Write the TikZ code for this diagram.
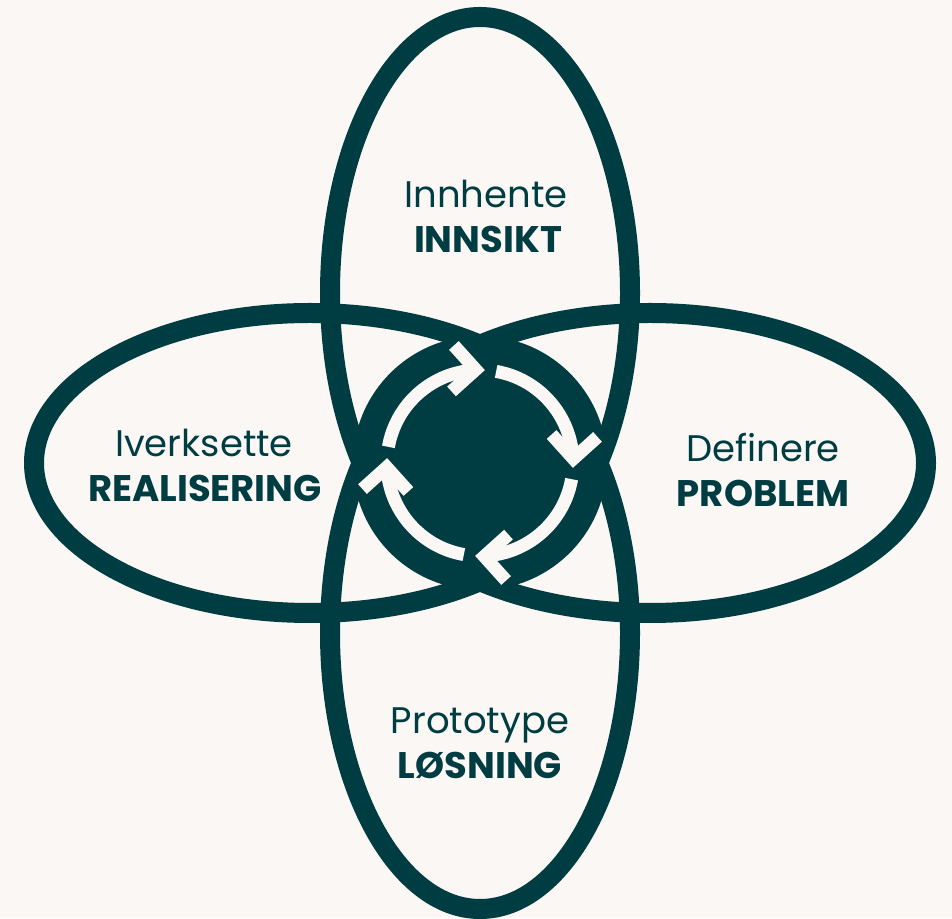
\documentclass[tikz,border=0pt]{standalone}
\usepackage{fontspec}
\setmainfont{Poppins}
\usetikzlibrary{calc}
\definecolor{teal}{HTML}{003D43}
\definecolor{bgc}{HTML}{FAF7F4}
\begin{document}
\begin{tikzpicture}[x=1pt,y=1pt,
  ell/.style={draw=teal,line width=20pt},
  ring/.style={draw=bgc,line width=13pt},
  chev/.style={draw=bgc,line width=13pt,line join=miter,line cap=butt},
  lbl/.style={text=teal,anchor=base,inner sep=0pt,font=\fontsize{37}{44}\selectfont},
  blbl/.style={lbl,font=\fontsize{37}{44}\selectfont\bfseries}]
\fill[bgc] (0,0) rectangle (952,918);
\useasboundingbox (0,0) rectangle (952,918);
\coordinate (C) at (480,455);
\coordinate (top) at (480,625);
\coordinate (bot) at (480,285);
\coordinate (lft) at (310,455);
\coordinate (rgt) at (650,455);
\draw[ell] (top) ellipse [x radius=150, y radius=276];
\draw[ell] (bot) ellipse [x radius=150, y radius=276];
\draw[ell] (lft) ellipse [x radius=276, y radius=150];
\draw[ell] (rgt) ellipse [x radius=276, y radius=150];
\fill[teal] (C) circle [radius=127];
\foreach \k in {0,1,2,3} {
  \pgfmathsetmacro\s{170-90*\k}
  \pgfmathsetmacro\e{92-90*\k}
  \pgfmathsetmacro\t{87-90*\k}
  \draw[ring] ($(C)+(\s:93)$) arc[start angle=\s, end angle=\e, radius=93];
  \draw[chev,shift={(C)},rotate=\t] (70,32.2) -- (93,9.2) -- (116,32.2);
}
\node[lbl] (innhente) at (486,710) {Innhente};
\node[blbl] (innsikt) at (488,665) {INNSIKT};
\node[lbl] (iverksette) at (204,461) {Iverksette};
\node[blbl] (realisering) at (205,416) {REALISERING};
\node[lbl] (definere) at (763,456) {Definere};
\node[blbl] (problem) at (763,411) {PROBLEM};
\node[lbl] (prototype) at (480,184) {Prototype};
\node[blbl] (losning) at (480,140) {LØSNING};
\end{tikzpicture}
\end{document}
